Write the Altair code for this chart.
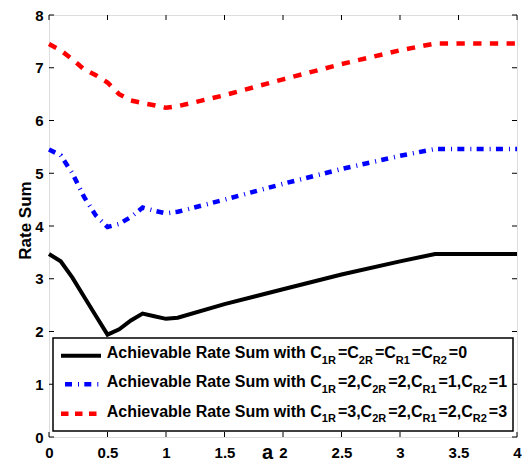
import altair as alt
import pandas as pd

# ---- data ----
a_vals = [0, 0.1, 0.2, 0.3, 0.4, 0.5, 0.6, 0.7, 0.8, 0.9, 1.0, 1.1, 1.5, 2.0, 2.5, 3.0, 3.3, 4.0]
rate_c0 = [3.47, 3.33, 3.02, 2.66, 2.30, 1.94, 2.04, 2.21, 2.34, 2.29, 2.24, 2.26, 2.52, 2.80, 3.08, 3.33, 3.47, 3.47]
rate_c1 = [5.45, 5.34, 5.00, 4.55, 4.20, 3.98, 4.04, 4.17, 4.35, 4.29, 4.24, 4.27, 4.50, 4.80, 5.08, 5.33, 5.46, 5.46]
rate_c2 = [7.45, 7.33, 7.16, 6.97, 6.86, 6.72, 6.50, 6.38, 6.33, 6.29, 6.24, 6.27, 6.48, 6.78, 7.07, 7.33, 7.46, 7.46]

x_ticks = [0, 0.5, 1, 1.5, 2, 2.5, 3, 3.5, 4]
y_ticks = [0, 1, 2, 3, 4, 5, 6, 7, 8]

# legend text: (segment, is_subscript)
legend_lines = [
    [("Achievable Rate Sum with C", 0), ("1R", 1), ("=C", 0), ("2R", 1), ("=C", 0), ("R1", 1), ("=C", 0), ("R2", 1), ("=0", 0)],
    [("Achievable Rate Sum with C", 0), ("1R", 1), ("=2,C", 0), ("2R", 1), ("=2,C", 0), ("R1", 1), ("=1,C", 0), ("R2", 1), ("=1", 0)],
    [("Achievable Rate Sum with C", 0), ("1R", 1), ("=3,C", 0), ("2R", 1), ("=2,C", 0), ("R1", 1), ("=2,C", 0), ("R2", 1), ("=3", 0)],
]

W, H = 468, 422
XMAX, YMAX = 4.0, 8.0
FONT = "Liberation Sans"
MAIN_FS, SUB_FS = 16, 11

# Arial/Liberation Sans Bold advance widths (per 1000 em)
ADV = {' ': 278, 'A': 722, 'c': 556, 'h': 611, 'i': 278, 'e': 556, 'v': 556, 'a': 556,
       'b': 611, 'l': 278, 'R': 722, 't': 333, 'S': 667, 'u': 611, 'm': 889, 'w': 778,
       'C': 722, '=': 584, ',': 278}
for d in "0123456789":
    ADV[d] = 556


def text_w(s, fs):
    return sum(ADV.get(ch, 556) for ch in s) * fs / 1000.0


def px_to_x(px):
    return px / W * XMAX


def py_to_y(py):
    return (H - py) / H * YMAX


# ---- series ----
df = pd.DataFrame({"a": a_vals, "c0": rate_c0, "c1": rate_c1, "c2": rate_c2})

xs = alt.Scale(domain=[0, 4], nice=False, zero=False)
ys = alt.Scale(domain=[0, 8], nice=False, zero=False)

xaxis = alt.Axis(values=x_ticks, format="~g", ticks=False, tickSize=0, domain=False, grid=False,
                 labelFont=FONT, labelFontSize=15, labelFontWeight="bold", labelColor="black",
                 labelBaseline="alphabetic", labelPadding=20, labelFlush=False, labelOverlap=False,
                 title="a", titleFont=FONT, titleFontSize=20, titleFontWeight="bold", titleColor="black",
                 titleX=218, titleY=21, titleBaseline="alphabetic", titleAlign="center")
yaxis = alt.Axis(values=y_ticks, format="~g", ticks=False, tickSize=0, domain=False, grid=False,
                 labelFont=FONT, labelFontSize=15, labelFontWeight="bold", labelColor="black",
                 labelPadding=6, labelFlush=False, labelOverlap=False,
                 title="Rate Sum", titleFont=FONT, titleFontSize=17, titleFontWeight="bold", titleColor="black",
                 titleX=-19, titleY=205, titleBaseline="alphabetic", titleAlign="center", titleAngle=270)

base = alt.Chart(df)
l0 = base.mark_line(color="black", strokeWidth=4).encode(
    x=alt.X("a:Q", scale=xs, axis=xaxis), y=alt.Y("c0:Q", scale=ys, axis=yaxis))
l1 = base.mark_line(color="#0000ff", strokeWidth=4.5, strokeDash=[7, 6, 1, 5.3]).encode(
    x=alt.X("a:Q", scale=xs), y=alt.Y("c1:Q", scale=ys))
l2 = base.mark_line(color="#ff0000", strokeWidth=4.5, strokeDash=[8.3, 8.4]).encode(
    x=alt.X("a:Q", scale=xs), y=alt.Y("c2:Q", scale=ys))

# ---- inward ticks on all four sides ----
xt = alt.Chart(pd.DataFrame({"a": x_ticks}))
yt = alt.Chart(pd.DataFrame({"c0": y_ticks}))
tick_style = dict(color="black", strokeWidth=1)
t_bottom = xt.mark_rule(**tick_style).encode(x=alt.X("a:Q", scale=xs), y=alt.value(H), y2=alt.value(H - 5))
t_top = xt.mark_rule(**tick_style).encode(x=alt.X("a:Q", scale=xs), y=alt.value(0), y2=alt.value(5))
t_left = yt.mark_rule(**tick_style).encode(y=alt.Y("c0:Q", scale=ys), x=alt.value(0), x2=alt.value(5))
t_right = yt.mark_rule(**tick_style).encode(y=alt.Y("c0:Q", scale=ys), x=alt.value(W), x2=alt.value(W - 5))

# ---- legend (positions measured from the plot bottom) ----
one = alt.Chart(pd.DataFrame({"k": [0]}))
leg_box = one.mark_rect(fill="white", stroke="black", strokeWidth=1.5).encode(
    x=alt.value(4), x2=alt.value(464), y=alt.value(H - 99), y2=alt.value(H - 6))

line_y = [H - 81.3, H - 52.7, H - 23.3]
leg_l0 = one.mark_rule(color="black", strokeWidth=4).encode(
    x=alt.value(12), x2=alt.value(52), y=alt.value(line_y[0]))
leg_l1 = one.mark_rule(color="#0000ff", strokeWidth=4.5, strokeDash=[7, 6, 1, 5.3], strokeDashOffset=-4).encode(
    x=alt.value(12), x2=alt.value(52), y=alt.value(line_y[1]))
leg_l2 = one.mark_rule(color="#ff0000", strokeWidth=4.5, strokeDash=[7.5, 6.5]).encode(
    x=alt.value(12), x2=alt.value(52), y=alt.value(line_y[2]))

baselines = [H - 78.7, H - 49.7, H - 20.3]
main_rows, sub_rows = [], []
for li, segs in enumerate(legend_lines):
    px = 57.7
    for s, is_sub in segs:
        if is_sub:
            sub_rows.append({"a": px_to_x(px), "c0": py_to_y(baselines[li] + 5.5), "t": s})
            px += text_w(s, SUB_FS) + 2.0
        else:
            main_rows.append({"a": px_to_x(px), "c0": py_to_y(baselines[li]), "t": s})
            px += text_w(s, MAIN_FS)

txt_main = alt.Chart(pd.DataFrame(main_rows)).mark_text(
    align="left", baseline="alphabetic", font=FONT, fontSize=MAIN_FS, fontWeight="bold", color="black").encode(
    x=alt.X("a:Q", scale=xs), y=alt.Y("c0:Q", scale=ys), text="t:N")
txt_sub = alt.Chart(pd.DataFrame(sub_rows)).mark_text(
    align="left", baseline="alphabetic", font=FONT, fontSize=SUB_FS, fontWeight="bold", color="black").encode(
    x=alt.X("a:Q", scale=xs), y=alt.Y("c0:Q", scale=ys), text="t:N")

chart = alt.layer(
    l0, l1, l2, t_bottom, t_top, t_left, t_right,
    leg_box, leg_l0, leg_l1, leg_l2, txt_main, txt_sub
).properties(
    width=W, height=H,
    autosize=alt.AutoSizeParams(type="none"),
    padding={"left": 41, "top": 7, "right": 5, "bottom": 27},
).configure_view(stroke="black", strokeWidth=1.5).configure(background="white")

chart.save("out.html", embed_options={"renderer": "svg", "actions": False})
